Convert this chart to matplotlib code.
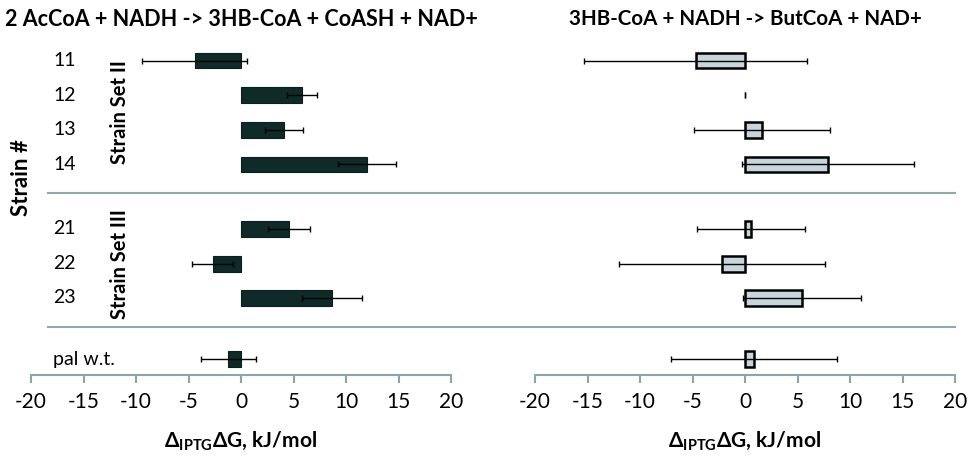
import matplotlib
matplotlib.use('Agg')
import matplotlib.pyplot as plt

plt.rcParams['font.family'] = ['Lato', 'DejaVu Sans']
plt.rcParams['mathtext.fontset'] = 'custom'
plt.rcParams['mathtext.rm'] = 'Lato'
plt.rcParams['mathtext.bf'] = 'Lato:bold'
plt.rcParams['axes.unicode_minus'] = False

# data
strains = ['11', '12', '13', '14', '21', '22', '23', 'pal w.t.']
dg_step1 = [-4.4, 5.8, 4.1, 12.0, 4.6, -2.7, 8.7, -1.2]
err_step1 = [5.0, 1.4, 1.85, 2.75, 2.0, 1.95, 2.85, 2.65]
dg_step2 = [-4.7, 0.0, 1.6, 7.9, 0.57, -2.2, 5.4, 0.86]
err_step2 = [10.6, 0.0, 6.5, 8.2, 5.15, 9.8, 5.6, 7.9]
groups = [('Strain Set II', ['11', '12', '13', '14']),
          ('Strain Set III', ['21', '22', '23'])]
title_left = '2 AcCoA + NADH -> 3HB-CoA + CoASH + NAD+'
title_right = '3HB-CoA + NADH -> ButCoA + NAD+'
xlabel = r'Δ$_{\mathbf{IPTG}}$ΔG, kJ/mol'

# layout
row_pos = [0, 1, 2, 3, 4.87, 5.88, 6.87, 8.64]
sep_pos = [3.83, 7.71]
axis_col = '#86a8a8'
sep_col = '#8fa9ad'

W, H = 971, 459
fig = plt.figure(figsize=(W / 100, H / 100), dpi=100)
ax1 = fig.add_axes([31 / W, 1 - 375 / H, 420 / W, 335 / H])
ax2 = fig.add_axes([535 / W, 1 - 375 / H, 420 / W, 335 / H])


def draw_panel(ax, vals, errs, color, edge, lw):
    widths = [lw if v != 0 else 0 for v in vals]
    ax.barh(row_pos, vals, height=0.45, color=color, edgecolor=edge,
            linewidth=widths, zorder=2)
    ax.errorbar(vals, row_pos, xerr=errs, fmt='none', ecolor='black',
                elinewidth=1, capsize=2.5, capthick=1, zorder=3)
    ax.set_xlim(-20, 20)
    ax.set_ylim(9.1, -0.6)
    ax.set_xticks(range(-20, 21, 5))
    ax.set_yticks([])
    ax.patch.set_visible(False)
    for s in ['left', 'top', 'right']:
        ax.spines[s].set_visible(False)
    ax.spines['bottom'].set_color(axis_col)
    ax.spines['bottom'].set_linewidth(1.5)
    ax.tick_params(axis='x', direction='out', length=6, width=1.5,
                   color=axis_col, labelsize=15, pad=6)


draw_panel(ax1, dg_step1, err_step1, '#0f2b29', '#0a1f1e', 0.8)
draw_panel(ax2, dg_step2, err_step2, '#c6d6dc', 'black', 1.8)

for lab, y in zip(strains, row_pos):
    ax1.text(-17.9, y, lab, ha='left', va='center', fontsize=14)

for name, members in groups:
    ys = [row_pos[strains.index(m)] for m in members]
    ax1.text(-11.5, sum(ys) / len(ys), name, rotation=90, ha='center',
             va='center', fontsize=14.5, fontweight='bold')

for s in sep_pos:
    ax1.axhline(s, xmin=(48 - 31) / 420, xmax=(955 - 31) / 420,
                color=sep_col, lw=1.5, clip_on=False)

fig.text(21 / W, 1 - 178 / H, 'Strain #', rotation=90, ha='center',
         va='center', fontsize=16, fontweight='bold')
fig.text(241 / W, 1 - 19 / H, title_left, ha='center', va='center',
         fontsize=15.5, fontweight='bold')
fig.text(745 / W, 1 - 19 / H, title_right, ha='center', va='center',
         fontsize=14.8, fontweight='bold')
fig.text(241 / W, 1 - 441 / H, xlabel, ha='center', va='center',
         fontsize=15, fontweight='bold')
fig.text(745 / W, 1 - 441 / H, xlabel, ha='center', va='center',
         fontsize=15, fontweight='bold')

fig.savefig('out.png', dpi=100)
